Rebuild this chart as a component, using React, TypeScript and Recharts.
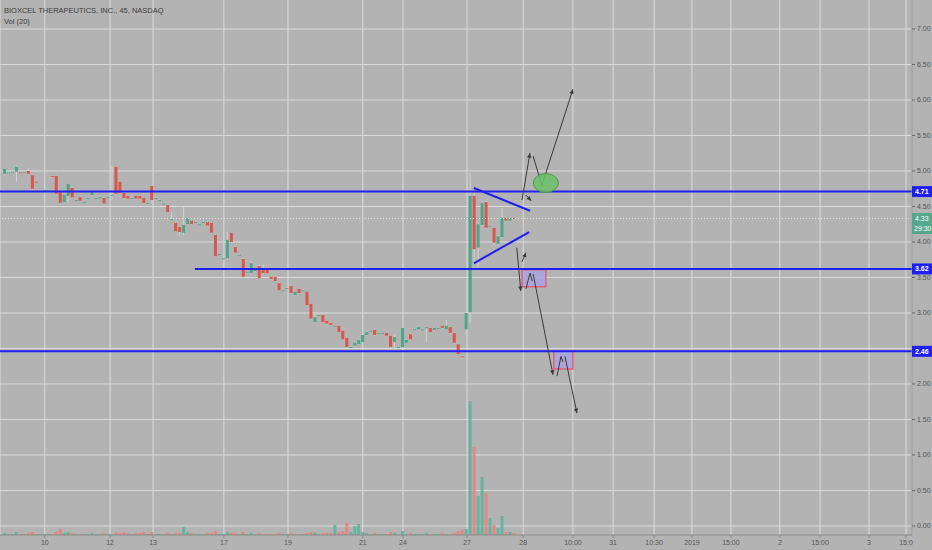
import { ComposedChart, Bar, XAxis, YAxis, CartesianGrid, ReferenceLine, ReferenceArea, ReferenceDot, Cell } from 'recharts';

// BXCL 45 min bars, 10 Dec - 28 Dec 2018
const opens = [
  4.96, 4.97, 4.99, 4.99, 4.98, 4.98, 5.00, 4.94, 4.85, 4.72, 4.73, 4.73, 4.93, 4.93, 4.70, 4.56, 4.65, 4.76, 4.59, 4.63,
  4.56, 4.62, 4.66, 4.62, 4.63, 4.62, 4.63, 4.65, 5.06, 4.85, 4.69, 4.65, 4.62, 4.65, 4.65, 4.62, 4.55, 4.79, 4.62, 4.59,
  4.54, 4.52, 4.32, 4.27, 4.21, 4.13, 4.25, 4.30, 4.28, 4.25, 4.28, 4.28, 4.27, 4.10, 3.83, 3.77, 3.77, 4.13, 3.93, 3.82,
  3.76, 3.58, 3.56, 3.59, 3.66, 3.61, 3.61, 3.51, 3.51, 3.42, 3.32, 3.35, 3.38, 3.25, 3.34, 3.32, 3.30, 3.13, 2.87, 2.97,
  2.97, 2.89, 2.86, 2.81, 2.82, 2.75, 2.65, 2.52, 2.54, 2.56, 2.59, 2.69, 2.75, 2.76, 2.72, 2.72, 2.72, 2.68, 2.59, 2.52,
  2.52, 2.58, 2.70, 2.77, 2.77, 2.77, 2.79, 2.79, 2.76, 2.79, 2.82, 2.77, 2.80, 2.72, 2.56, 2.39, 2.77, 3.01, 4.65, 3.92,
  4.24, 4.56, 4.23, 4.20, 3.97, 4.07, 4.34, 4.30, 4.34,
];
const highs = [
  5.04, 4.99, 5.00, 5.08, 4.99, 5.00, 5.04, 4.95, 4.86, 4.73, 4.74, 4.74, 4.94, 4.94, 4.71, 4.67, 4.83, 4.78, 4.60, 4.64,
  4.57, 4.63, 4.71, 4.63, 4.64, 4.63, 4.64, 5.06, 5.07, 4.86, 4.70, 4.66, 4.63, 4.66, 4.66, 4.63, 4.56, 4.80, 4.63, 4.60,
  4.55, 4.53, 4.42, 4.28, 4.22, 4.49, 4.35, 4.31, 4.29, 4.26, 4.29, 4.30, 4.28, 4.11, 3.84, 3.78, 4.14, 4.14, 3.94, 3.83,
  3.77, 3.59, 3.73, 3.64, 3.68, 3.68, 3.62, 3.52, 3.52, 3.43, 3.33, 3.36, 3.39, 3.31, 3.35, 3.33, 3.31, 3.14, 3.00, 2.98,
  2.98, 2.90, 2.87, 2.83, 2.83, 2.76, 2.66, 2.53, 2.59, 2.63, 2.70, 2.74, 2.76, 2.77, 2.73, 2.73, 2.73, 2.69, 2.69, 2.53,
  2.80, 2.63, 2.71, 2.78, 2.81, 2.78, 2.81, 2.80, 2.80, 2.80, 2.83, 2.90, 2.81, 2.73, 2.57, 2.40, 3.01, 4.97, 4.69, 4.26,
  4.58, 4.58, 4.24, 4.21, 4.09, 4.48, 4.35, 4.35, 4.35,
];
const lows = [
  4.94, 4.96, 4.98, 4.85, 4.96, 4.97, 4.95, 4.74, 4.83, 4.71, 4.72, 4.72, 4.91, 4.67, 4.54, 4.55, 4.55, 4.62, 4.58, 4.57,
  4.55, 4.61, 4.65, 4.61, 4.62, 4.53, 4.62, 4.59, 4.66, 4.68, 4.61, 4.60, 4.61, 4.60, 4.60, 4.54, 4.54, 4.55, 4.61, 4.58,
  4.53, 4.41, 4.31, 4.14, 4.10, 4.10, 4.24, 4.24, 4.27, 4.24, 4.27, 4.22, 4.12, 3.79, 3.82, 3.76, 3.75, 3.99, 3.84, 3.81,
  3.50, 3.57, 3.54, 3.58, 3.48, 3.54, 3.55, 3.47, 3.44, 3.31, 3.31, 3.34, 3.27, 3.24, 3.27, 3.31, 3.10, 2.91, 2.86, 2.96,
  2.86, 2.84, 2.82, 2.80, 2.72, 2.62, 2.51, 2.50, 2.53, 2.55, 2.58, 2.68, 2.74, 2.68, 2.71, 2.71, 2.67, 2.51, 2.52, 2.51,
  2.51, 2.57, 2.62, 2.76, 2.76, 2.76, 2.59, 2.72, 2.75, 2.78, 2.78, 2.76, 2.71, 2.57, 2.41, 2.35, 2.70, 2.86, 3.68, 3.65,
  4.22, 4.18, 4.22, 3.96, 3.95, 4.06, 4.29, 4.29, 4.32,
];
const closes = [
  5.03, 4.98, 4.99, 5.06, 4.97, 4.99, 4.96, 4.75, 4.84, 4.72, 4.73, 4.73, 4.92, 4.68, 4.55, 4.66, 4.82, 4.63, 4.59, 4.58,
  4.56, 4.62, 4.70, 4.62, 4.63, 4.54, 4.63, 4.66, 4.68, 4.69, 4.62, 4.61, 4.62, 4.61, 4.61, 4.55, 4.55, 4.59, 4.62, 4.59,
  4.54, 4.42, 4.32, 4.15, 4.14, 4.24, 4.34, 4.25, 4.28, 4.25, 4.28, 4.23, 4.13, 3.80, 3.83, 3.77, 4.03, 4.00, 3.85, 3.82,
  3.51, 3.58, 3.70, 3.63, 3.49, 3.56, 3.56, 3.48, 3.45, 3.32, 3.32, 3.35, 3.28, 3.30, 3.28, 3.32, 3.11, 2.92, 2.94, 2.97,
  2.87, 2.85, 2.83, 2.82, 2.73, 2.63, 2.52, 2.52, 2.58, 2.62, 2.69, 2.73, 2.75, 2.69, 2.72, 2.72, 2.68, 2.52, 2.66, 2.52,
  2.79, 2.62, 2.63, 2.77, 2.80, 2.77, 2.80, 2.73, 2.79, 2.79, 2.79, 2.82, 2.72, 2.58, 2.42, 2.38, 3.00, 4.65, 3.90, 4.25,
  4.55, 4.20, 4.23, 3.99, 4.08, 4.34, 4.30, 4.34, 4.33,
];
// volume, thousands of shares
const volumes = [
  20, 10, 10, 30, 10, 10, 20, 30, 10, 10, 10, 10, 10, 30, 60, 20, 30, 20, 10, 10,
  10, 10, 20, 10, 10, 20, 10, 10, 30, 20, 30, 20, 10, 20, 20, 30, 10, 30, 10, 10,
  10, 20, 10, 20, 20, 80, 30, 20, 10, 10, 10, 20, 20, 40, 10, 10, 30, 20, 20, 10,
  30, 10, 20, 10, 20, 10, 10, 10, 10, 20, 10, 10, 20, 10, 10, 10, 20, 30, 20, 10,
  20, 20, 20, 100, 30, 40, 120, 30, 90, 110, 30, 20, 10, 20, 10, 10, 10, 30, 20, 10,
  40, 10, 20, 10, 10, 10, 20, 10, 10, 10, 20, 10, 10, 20, 40, 50, 60, 1340, 880, 390,
  580, 420, 170, 100, 70, 190, 30, 30, 20,
];

const priceTicks = [0, 0.5, 1, 1.5, 2, 2.5, 3, 3.5, 4, 4.5, 5, 5.5, 6, 6.5, 7];
const levelPrices = [4.71, 3.62, 2.46];
const lastPrice = 4.33;
const countdown = '29:30';

const timeTicks = [10, 26.4, 37.2, 55, 71.1, 89.9, 100, 116.1, 130.2, 142.7, 152.8, 163.1, 172.6, 182.4, 194.7, 204.8, 217.1, 226.4];
const timeLabels = ['10', '12', '13', '17', '19', '21', '24', '27', '28', '10:00', '31', '10:30', '2019', '15:00', '2', '15:00', '3', '15:0'];

// drawings (bar index, price)
const triangleLines = [
  [[117.8, 4.76], [131.9, 4.44]],
  [[117.8, 3.70], [131.7, 4.14]],
];
const arrowSegments: [number[], number[], boolean][] = [
  [[129.9, 4.59], [131.9, 5.25], true],
  [[130.9, 4.66], [132.2, 4.58], true],
  [[132.7, 5.21], [134.9, 4.80], false],
  [[134.9, 4.80], [142.7, 6.15], true],
  [[128.6, 3.92], [129.6, 3.31], true],
  [[129.9, 3.72], [130.9, 3.85], true],
  [[130.9, 3.34], [131.9, 3.56], false],
  [[131.9, 3.56], [132.5, 3.45], false],
  [[132.7, 3.55], [137.7, 2.13], true],
  [[138.7, 2.11], [139.7, 2.39], false],
  [[139.7, 2.39], [140.2, 2.31], false],
  [[140.7, 2.39], [143.7, 1.59], true],
];
const zones = [
  { x1: 129.9, x2: 135.9, y1: 3.37, y2: 3.61 },
  { x1: 137.9, x2: 142.7, y1: 2.21, y2: 2.46 },
];
const ellipse = { x: 135.9, y: 4.83 };

const candles = opens.map((o, i) => ({
  i,
  open: o,
  high: highs[i],
  low: lows[i],
  close: closes[i],
  volume: volumes[i],
}));

const UP = '#4fa58a';
const DOWN = '#d9564c';
const BLUE = '#1f1ff2';
const FONT = '"Liberation Sans", Arial, sans-serif';

const Candle = (props: any) => {
  const { x, y, width, height, payload } = props;
  if (x == null || y == null) return null;
  const { open, close, high, low } = payload;
  const up = close >= open;
  const at = (v: number) => (high === low ? y : y + ((high - v) / (high - low)) * height);
  const yo = at(open);
  const yc = at(close);
  const top = Math.min(yo, yc);
  const bh = Math.max(1, Math.abs(yc - yo));
  const cx = x + width / 2;
  return (
    <g>
      <line x1={cx} x2={cx} y1={y} y2={y + height} stroke="#d2d2d2" strokeWidth={1} />
      <rect x={x} y={top} width={width} height={bh} fill={up ? UP : DOWN} />
    </g>
  );
};

const PriceTick = (props: any) => {
  const { x, y, payload } = props;
  const v = payload.value;
  if (levelPrices.includes(v)) {
    return (
      <g>
        <rect x={x} y={y - 5.5} width={20} height={11} fill={BLUE} />
        <text x={x + 3} y={y + 2.5} fill="#fff" fontSize={7} fontWeight="bold" fontFamily={FONT}>{v.toFixed(2)}</text>
      </g>
    );
  }
  if (v === lastPrice) {
    return (
      <g>
        <rect x={x} y={y - 5.5} width={20} height={21} fill="#55a88b" />
        <text x={x + 3} y={y + 2.5} fill="#fff" fontSize={7} fontFamily={FONT}>{v.toFixed(2)}</text>
        <text x={x + 2} y={y + 12.5} fill="#fff" fontSize={7} fontFamily={FONT}>{countdown}</text>
      </g>
    );
  }
  // a label under a level box is hidden by it
  if (levelPrices.some((p) => Math.abs(p - v) < 0.08)) return <g />;
  return (
    <g>
      <line x1={x} x2={x + 3} y1={y} y2={y} stroke="#666" />
      <text x={x + 5} y={y + 2.5} fill="#555" fontSize={7} fontFamily={FONT}>{v.toFixed(2)}</text>
    </g>
  );
};

const Arrow = (head: boolean) => (props: any) => {
  const { x1, y1, x2, y2 } = props;
  if ([x1, y1, x2, y2].some((n) => typeof n !== 'number' || isNaN(n))) return null;
  const a = Math.atan2(y2 - y1, x2 - x1);
  const L = 5;
  const p1 = [x2 - L * Math.cos(a - 0.45), y2 - L * Math.sin(a - 0.45)];
  const p2 = [x2 - L * Math.cos(a + 0.45), y2 - L * Math.sin(a + 0.45)];
  return (
    <g>
      <line x1={x1} y1={y1} x2={x2} y2={y2} stroke="#3a3a3a" strokeWidth={1} />
      {head && <polygon points={`${x2},${y2} ${p1[0]},${p1[1]} ${p2[0]},${p2[1]}`} fill="#3a3a3a" />}
    </g>
  );
};

const EllipseShape = (props: any) => {
  const { cx, cy } = props;
  if (cx == null || cy == null) return null;
  return <ellipse cx={cx} cy={cy} rx={12.5} ry={9.5} fill="#6cbf6a" fillOpacity={0.85} stroke="#4a9a48" strokeWidth={1} />;
};

export default function App() {
  return (
    <div style={{ position: 'absolute', left: 0, top: 0, width: 932, height: 550, background: '#b3b3b3', fontFamily: FONT }}>
      <ComposedChart width={932} height={550} data={candles} margin={{ top: 0, right: 0, bottom: 0, left: 0 }}>
        <CartesianGrid horizontalValues={priceTicks} stroke="#dcdcdc" strokeWidth={1} />
        <XAxis
          dataKey="i"
          type="number"
          domain={[-1.26, 227.9]}
          allowDataOverflow
          ticks={timeTicks}
          interval={0}
          tickFormatter={(_v: number, idx: number) => timeLabels[idx]}
          height={15}
          tick={{ fontSize: 7, fill: '#555', fontFamily: FONT }}
          tickSize={3}
          tickMargin={2}
          stroke="#8a8a8a"
        />
        <XAxis xAxisId="v" dataKey="i" type="number" domain={[-1.26, 227.9]} allowDataOverflow hide />
        <YAxis
          orientation="right"
          type="number"
          domain={[-0.127, 7.408]}
          allowDataOverflow
          ticks={[...priceTicks, ...levelPrices, lastPrice]}
          interval={0}
          width={20}
          tickLine={false}
          tickSize={0}
          tickMargin={0}
          tick={<PriceTick />}
          stroke="#8a8a8a"
        />
        <YAxis yAxisId="v" domain={[0, 5350]} allowDataOverflow hide />
        <Bar xAxisId="v" yAxisId="v" dataKey="volume" barSize={3} isAnimationActive={false}>
          {candles.map((c, idx) => (
            <Cell key={idx} fill={c.close >= c.open ? '#5fb39c' : '#e4847e'} fillOpacity={0.9} />
          ))}
        </Bar>
        <Bar dataKey={(d: any) => [d.low, d.high]} barSize={3} shape={<Candle />} isAnimationActive={false} />
        <ReferenceLine y={lastPrice} stroke="#d6e6de" strokeDasharray="1 2" />
        <ReferenceLine y={levelPrices[0]} stroke={BLUE} strokeWidth={2} />
        <ReferenceLine
          segment={[{ x: 47.7, y: levelPrices[1] }, { x: 227.9, y: levelPrices[1] }]}
          stroke={BLUE}
          strokeWidth={2}
        />
        <ReferenceLine y={levelPrices[2]} stroke={BLUE} strokeWidth={2} />
        {triangleLines.map((s, k) => (
          <ReferenceLine
            key={'t' + k}
            segment={[{ x: s[0][0], y: s[0][1] }, { x: s[1][0], y: s[1][1] }]}
            stroke={BLUE}
            strokeWidth={2}
            ifOverflow="visible"
          />
        ))}
        {zones.map((z, k) => (
          <ReferenceArea
            key={'z' + k}
            x1={z.x1}
            x2={z.x2}
            y1={z.y1}
            y2={z.y2}
            fill="#a9a3df"
            fillOpacity={0.85}
            stroke="#e0607c"
            strokeWidth={1.5}
            ifOverflow="visible"
          />
        ))}
        <ReferenceDot x={ellipse.x} y={ellipse.y} r={10} shape={EllipseShape} ifOverflow="visible" />
        {arrowSegments.map((s, k) => (
          <ReferenceLine
            key={'a' + k}
            segment={[{ x: s[0][0], y: s[0][1] }, { x: s[1][0], y: s[1][1] }]}
            shape={Arrow(s[2])}
            ifOverflow="visible"
          />
        ))}
      </ComposedChart>
      <div style={{ position: 'absolute', left: 4, top: 5, fontSize: 7.5, color: '#3c3c3c', lineHeight: '11px' }}>
        BIOXCEL THERAPEUTICS, INC., 45, NASDAQ
        <br />
        Vol (20)
      </div>
    </div>
  );
}
